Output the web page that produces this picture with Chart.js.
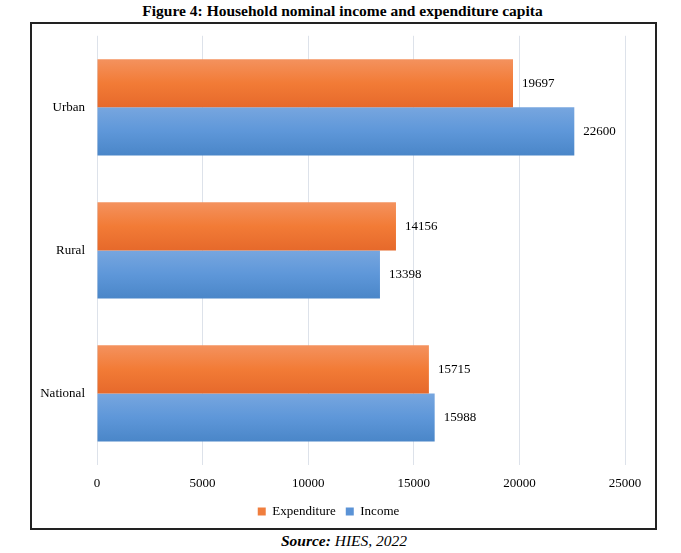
<!DOCTYPE html>
<html>
<head>
<meta charset="utf-8">
<script src="https://cdn.jsdelivr.net/npm/chart.js@4"></script>
<style>
  body { margin: 0; width: 681px; height: 553px; background: #fff; position: relative; font-family: "Liberation Serif", "Times New Roman", serif; }
  #title { position: absolute; left: 0; width: 685px; top: 2px; text-align: center; font-weight: bold; font-size: 15.5px; }
  #box { position: absolute; left: 30px; top: 22px; width: 623px; height: 504px; border: 2px solid #222; }
  #source { position: absolute; left: 0; width: 688px; top: 532px; text-align: center; font-style: italic; font-size: 15.5px; }
</style>
</head>
<body>
<div id="title">Figure 4: Household nominal income and expenditure capita</div>
<div id="box"><canvas id="chart" width="623" height="504"></canvas></div>
<div id="source"><b>Source:</b> HIES, 2022</div>
<script>
// chart data
const categories = ["Urban", "Rural", "National"];
const expenditure = [19697, 14156, 15715];
const income = [22600, 13398, 15988];
const xTicks = [0, 5000, 10000, 15000, 20000, 25000];

const serif = "Liberation Serif";

// vertical gradient across a single bar, built from the scale positions
function barGradient(top, mid, bottom, above) {
  return function (context) {
    const chart = context.chart;
    const yScale = chart.scales.y;
    if (!chart.chartArea || !yScale || context.dataIndex === undefined) return mid;
    const center = yScale.getPixelForValue(context.dataIndex);
    const band = (chart.chartArea.bottom - chart.chartArea.top) / categories.length;
    const h = band * 0.673 / 2;
    const y0 = above ? center - h : center;
    const g = chart.ctx.createLinearGradient(0, y0, 0, y0 + h);
    g.addColorStop(0, top);
    g.addColorStop(0.5, mid);
    g.addColorStop(1, bottom);
    return g;
  };
}

// value labels at the end of each bar
const valueLabels = {
  id: "valueLabels",
  afterDatasetsDraw(chart) {
    const ctx = chart.ctx;
    ctx.save();
    ctx.font = "13px '" + serif + "'";
    ctx.fillStyle = "#000";
    ctx.textBaseline = "middle";
    ctx.textAlign = "left";
    chart.data.datasets.forEach((ds, i) => {
      chart.getDatasetMeta(i).data.forEach((bar, j) => {
        ctx.fillText(ds.data[j], bar.x + 9, bar.y);
      });
    });
    ctx.restore();
  }
};

function draw() {
  Chart.defaults.font.family = serif;
  new Chart(document.getElementById("chart"), {
    type: "bar",
    data: {
      labels: categories,
      datasets: [
        {
          label: "Expenditure",
          data: expenditure,
          backgroundColor: barGradient("#F4925E", "#F27B36", "#E6692B", true),
          borderWidth: 0
        },
        {
          label: "Income",
          data: income,
          backgroundColor: barGradient("#77A6DF", "#5E97D9", "#4A86C8", false),
          borderWidth: 0
        }
      ]
    },
    options: {
      indexAxis: "y",
      responsive: false,
      animation: false,
      categoryPercentage: 0.673,
      barPercentage: 1,
      layout: { padding: { top: 8, right: 30, left: 0, bottom: 0 } },
      scales: {
        x: {
          min: 0,
          max: 25000,
          afterBuildTicks(axis) { axis.ticks = xTicks.map(v => ({ value: v })); },
          afterFit(axis) { axis.height = 30; },
          grid: { color: "#DDE2EA", drawTicks: false },
          border: { display: false },
          ticks: { color: "#000", font: { size: 13 }, padding: 11, callback: v => String(v) }
        },
        y: {
          afterFit(axis) { axis.width = 65; },
          grid: { display: false },
          border: { display: false },
          ticks: { color: "#000", font: { size: 13 }, padding: 4 }
        }
      },
      plugins: {
        legend: {
          position: "bottom",
          labels: {
            color: "#000",
            font: { size: 13 },
            boxWidth: 8,
            boxHeight: 8,
            padding: 10,
            generateLabels(chart) {
              const fills = ["#F07E3E", "#5B93D6"];
              return chart.data.datasets.map((ds, i) => ({
                text: ds.label,
                fillStyle: fills[i],
                strokeStyle: fills[i],
                lineWidth: 0,
                datasetIndex: i
              }));
            }
          }
        },
        tooltip: { enabled: false }
      }
    },
    plugins: [valueLabels]
  });
}

document.fonts.load("13px 'Liberation Serif'").then(draw, draw);
</script>
</body>
</html>
